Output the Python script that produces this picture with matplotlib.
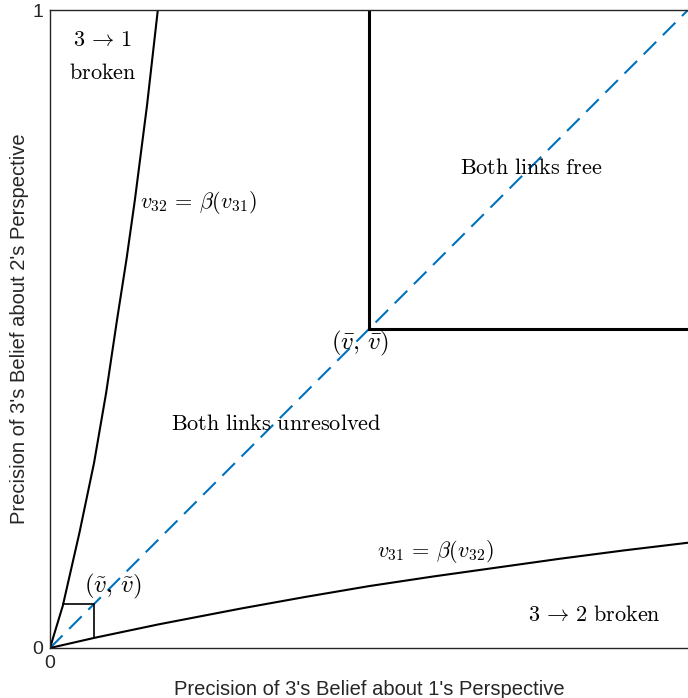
import matplotlib
matplotlib.use("Agg")
import matplotlib.pyplot as plt

plt.rcParams['mathtext.fontset'] = 'cm'

# boundary curves
# v32 = beta(v31)  (upper-left curve)
upper_x = [0.0, 0.020, 0.046, 0.069, 0.088, 0.105, 0.120, 0.133, 0.152, 0.169]
upper_y = [0.0, 0.066, 0.180, 0.290, 0.400, 0.514, 0.610, 0.702, 0.850, 1.0]
# v31 = beta(v32)  (lower-right curve)
lower_x = [0.0, 0.070, 0.170, 0.300, 0.400, 0.500, 0.600, 0.700, 0.800, 0.900, 1.0]
lower_y = [0.0, 0.016, 0.037, 0.062, 0.080, 0.097, 0.112, 0.126, 0.140, 0.153, 0.165]

v_tilde = 0.069
v_bar = 0.5

fig = plt.figure(figsize=(6.88, 6.98), dpi=100)
ax = fig.add_axes([50/688, 50/698, 638/688, 638/698])

# 45 degree line
ax.plot([0, 1], [0, 1], '--', color='#0072BD', lw=1.5, dashes=(8.5, 4.5))

ax.plot(upper_x, upper_y, color='black', lw=1.5)
ax.plot(lower_x, lower_y, color='black', lw=1.5)

# small square at (v~, v~)
ax.plot([0.020, v_tilde, v_tilde], [v_tilde, v_tilde, 0.016], color='black', lw=1.2)

# "both links free" region
ax.plot([v_bar, v_bar], [1, v_bar], color='black', lw=2.2)
ax.plot([v_bar, 1], [v_bar, v_bar], color='black', lw=2.2)

fs = 16
ax.text(0.083, 0.953, r'$3 \,\rightarrow\, 1$', ha='center', va='center', fontsize=fs)
ax.text(0.083, 0.901, r'$\mathrm{broken}$', ha='center', va='center', fontsize=fs)
ax.text(0.141, 0.699, r'$v_{32} \,=\, \beta(v_{31})$', ha='left', va='center', fontsize=fs)
ax.text(0.755, 0.752, r'$\mathrm{Both\ links\ free}$', ha='center', va='center', fontsize=fs)
ax.text(0.486, 0.478, r'$(\bar{v},\,\bar{v})$', ha='center', va='center', fontsize=fs + 2)
ax.text(0.354, 0.351, r'$\mathrm{Both\ links\ unresolved}$', ha='center', va='center', fontsize=fs)
ax.text(0.604, 0.152, r'$v_{31} \,=\, \beta(v_{32})$', ha='center', va='center', fontsize=fs)
ax.text(0.099, 0.097, r'$(\tilde{v},\,\tilde{v})$', ha='center', va='center', fontsize=fs + 2)
ax.text(0.854, 0.052, r'$3 \,\rightarrow\, 2\ \mathrm{broken}$', ha='center', va='center', fontsize=fs)

ax.set_xlim(0, 1)
ax.set_ylim(0, 1)
ax.set_xticks([0])
ax.set_yticks([0, 1])
ax.set_xticklabels(['0'], family='Liberation Sans')
ax.set_yticklabels(['0', '1'], family='Liberation Sans')
ax.tick_params(length=0, pad=5, colors='#262626', labelsize=14)
for s in ['left', 'bottom', 'top']:
    ax.spines[s].set_color('#262626')
    ax.spines[s].set_linewidth(1.0)
ax.spines['right'].set_visible(False)

ax.set_xlabel("Precision of 3's Belief about 1's Perspective", family='Liberation Sans',
              fontsize=14.5, color='#262626', labelpad=6)
ax.set_ylabel("Precision of 3's Belief about 2's Perspective", family='Liberation Sans',
              fontsize=14.5, color='#262626', labelpad=2)

fig.savefig('out.png', dpi=100, facecolor='white')
